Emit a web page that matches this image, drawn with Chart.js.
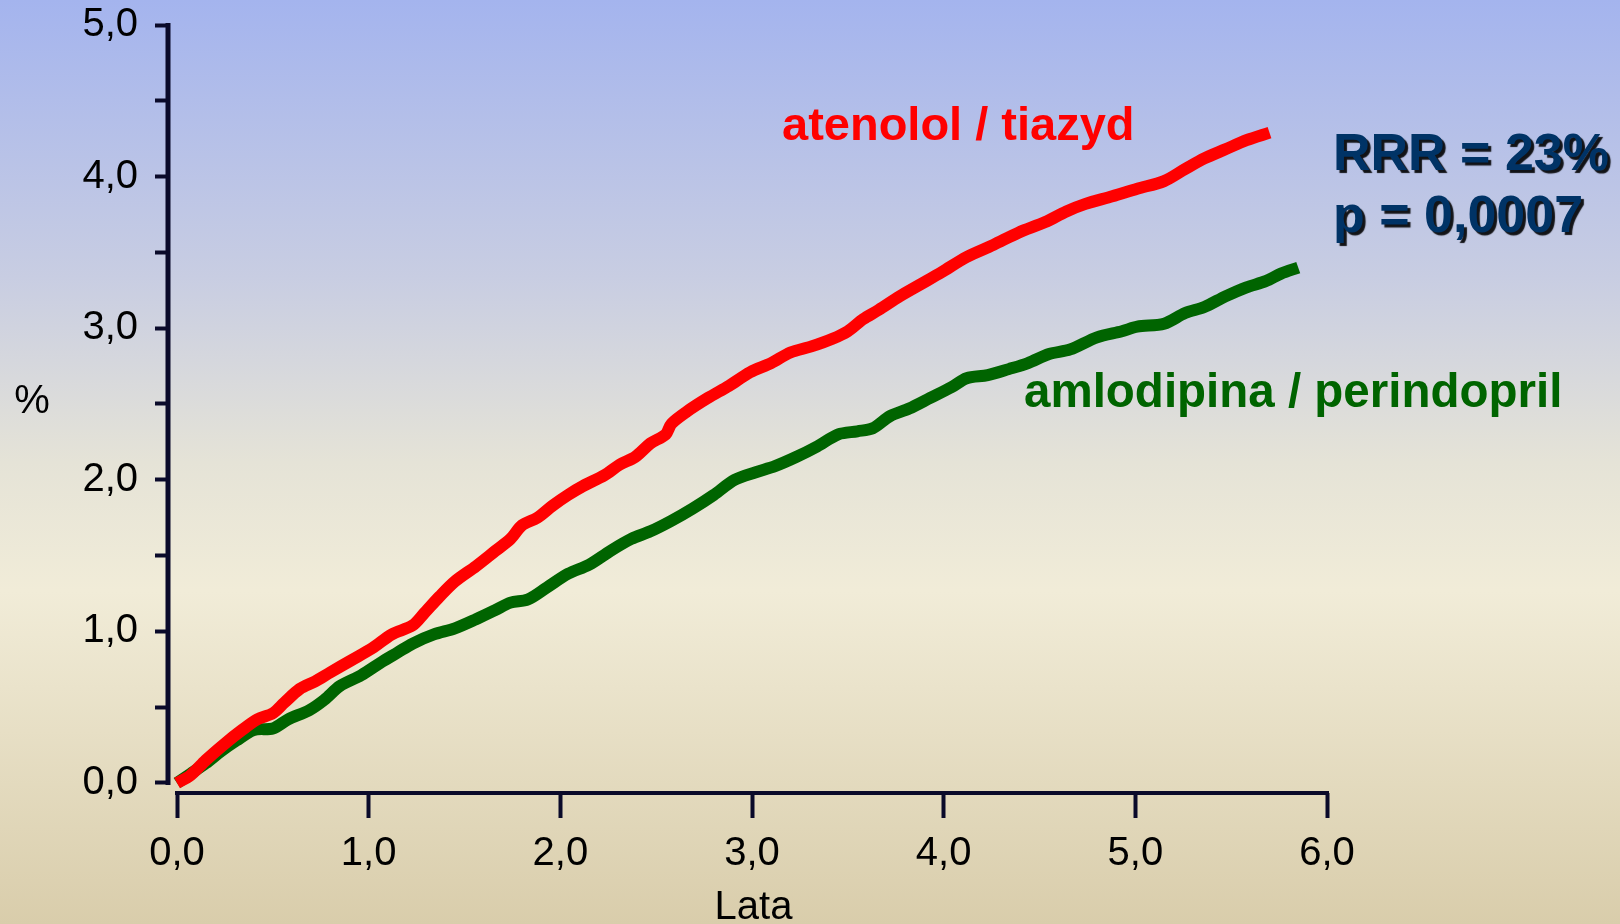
<!DOCTYPE html>
<html>
<head>
<meta charset="utf-8">
<script src="https://cdn.jsdelivr.net/npm/chart.js@4/dist/chart.umd.min.js"></script>
<style>
  html, body { margin: 0; padding: 0; }
  #wrap { width: 1620px; height: 924px; position: relative; }
</style>
</head>
<body>
<div id="wrap"><canvas id="chart"></canvas></div>
<script>
// Cumulative event rate (%) over follow-up time (years)
const atenololYears = [0, 0.07, 0.15, 0.25, 0.34, 0.42, 0.50, 0.56, 0.64, 0.72, 0.80, 0.91, 1.02, 1.12, 1.23, 1.29, 1.37, 1.45, 1.56, 1.66, 1.74, 1.80, 1.88, 1.96, 2.04, 2.12, 2.23, 2.31, 2.39, 2.47, 2.55, 2.58, 2.66, 2.77, 2.88, 2.99, 3.10, 3.20, 3.31, 3.42, 3.50, 3.58, 3.66, 3.77, 3.88, 3.99, 4.12, 4.26, 4.39, 4.53, 4.64, 4.74, 4.88, 5.01, 5.15, 5.26, 5.36, 5.47, 5.58, 5.70];
const atenololPct   = [0, 0.05, 0.15, 0.26, 0.35, 0.42, 0.46, 0.53, 0.62, 0.67, 0.73, 0.81, 0.89, 0.98, 1.04, 1.12, 1.23, 1.33, 1.43, 1.53, 1.61, 1.70, 1.75, 1.83, 1.90, 1.96, 2.03, 2.10, 2.15, 2.24, 2.30, 2.37, 2.45, 2.54, 2.62, 2.71, 2.77, 2.84, 2.88, 2.93, 2.98, 3.06, 3.12, 3.21, 3.29, 3.37, 3.47, 3.55, 3.63, 3.70, 3.77, 3.82, 3.87, 3.92, 3.97, 4.05, 4.12, 4.18, 4.24, 4.29];

const amlodipinaYears = [0, 0.07, 0.15, 0.23, 0.31, 0.40, 0.50, 0.58, 0.69, 0.77, 0.85, 0.96, 1.07, 1.15, 1.23, 1.34, 1.45, 1.56, 1.66, 1.74, 1.83, 1.93, 2.04, 2.15, 2.26, 2.37, 2.47, 2.58, 2.69, 2.80, 2.91, 3.02, 3.12, 3.23, 3.34, 3.45, 3.55, 3.63, 3.72, 3.82, 3.93, 4.04, 4.12, 4.23, 4.34, 4.44, 4.55, 4.66, 4.80, 4.93, 5.01, 5.15, 5.26, 5.36, 5.47, 5.58, 5.68, 5.76, 5.85];
const amlodipinaPct   = [0, 0.06, 0.13, 0.21, 0.28, 0.35, 0.36, 0.42, 0.48, 0.55, 0.64, 0.71, 0.80, 0.86, 0.92, 0.98, 1.02, 1.08, 1.14, 1.19, 1.21, 1.29, 1.38, 1.44, 1.53, 1.61, 1.66, 1.73, 1.81, 1.90, 2.00, 2.05, 2.09, 2.15, 2.22, 2.30, 2.32, 2.34, 2.42, 2.47, 2.54, 2.61, 2.67, 2.69, 2.73, 2.77, 2.83, 2.86, 2.94, 2.98, 3.01, 3.03, 3.10, 3.14, 3.21, 3.27, 3.31, 3.36, 3.40];

const xTickValues = [0, 1, 2, 3, 4, 5, 6];
const yTickValues = [0, 0.5, 1, 1.5, 2, 2.5, 3, 3.5, 4, 4.5, 5];

const seriesNames = ['atenolol / tiazyd', 'amlodipina / perindopril'];
const statLines = ['RRR = 23%', 'p = 0,0007'];
const xTitle = 'Lata';
const yTitle = '%';

const axisColor = '#0a0a2a';
const fontFamily = '"Liberation Sans", Arial, sans-serif';
const fmt = v => v.toFixed(1).replace('.', ',');

const toPoints = (xs, ys) => xs.map((x, i) => ({ x, y: ys[i] }));

const decorations = {
  id: 'decorations',
  beforeDraw(chart) {
    const { ctx, width, height } = chart;
    const g = ctx.createLinearGradient(0, 0, 0, height);
    g.addColorStop(0.00, '#a4b4ee');
    g.addColorStop(0.30, '#c8cde2');
    g.addColorStop(0.50, '#e5e3d7');
    g.addColorStop(0.64, '#f1ecd8');
    g.addColorStop(1.00, '#d9cdab');
    ctx.save();
    ctx.fillStyle = g;
    ctx.fillRect(0, 0, width, height);
    ctx.restore();
  },
  beforeDatasetsDraw(chart) {
    const { ctx, chartArea, scales } = chart;
    const xs = scales.x, ys = scales.y;
    ctx.save();
    ctx.strokeStyle = axisColor;
    ctx.lineWidth = 5;
    ctx.lineCap = 'butt';
    // vertical axis line
    ctx.beginPath();
    ctx.moveTo(chartArea.left, ys.getPixelForValue(5) - 2);
    ctx.lineTo(chartArea.left, ys.getPixelForValue(0) + 2);
    ctx.stroke();
    // horizontal axis line
    ctx.lineWidth = 4;
    ctx.beginPath();
    ctx.moveTo(xs.getPixelForValue(0) - 2, chartArea.bottom);
    ctx.lineTo(xs.getPixelForValue(6) + 2, chartArea.bottom);
    ctx.stroke();
    ctx.restore();
  },
  afterDraw(chart) {
    const { ctx, chartArea, scales } = chart;
    const ys = scales.y;
    ctx.save();
    // axis titles
    ctx.fillStyle = '#000';
    ctx.font = '40px ' + fontFamily;
    ctx.textAlign = 'center';
    ctx.textBaseline = 'alphabetic';
    ctx.fillText(xTitle, (chartArea.left + chartArea.right) / 2 + 6, 919);
    ctx.fillText(yTitle, 32, (ys.getPixelForValue(0) + ys.getPixelForValue(5)) / 2 + 9);

    // series labels
    ctx.textAlign = 'left';
    ctx.font = 'bold 47px ' + fontFamily;
    ctx.fillStyle = '#ff0000';
    ctx.fillText(seriesNames[0], 782, 140);
    ctx.font = 'bold 47.5px ' + fontFamily;
    ctx.fillStyle = '#006400';
    ctx.fillText(seriesNames[1], 1024, 407);

    // statistics
    ctx.font = 'bold 52px ' + fontFamily;
    ctx.fillStyle = '#003366';
    ctx.shadowColor = 'rgba(0,0,0,0.9)';
    ctx.shadowOffsetX = 3;
    ctx.shadowOffsetY = 3;
    ctx.shadowBlur = 1;
    ctx.fillText(statLines[0], 1333, 170);
    ctx.fillText(statLines[1], 1333, 232);
    ctx.restore();
  }
};

new Chart(document.getElementById('chart'), {
  type: 'line',
  data: {
    datasets: [
      {
        label: seriesNames[0],
        data: toPoints(atenololYears, atenololPct),
        borderColor: '#ff0000',
        borderWidth: 12,
        pointRadius: 0,
        tension: 0.3,
        fill: false
      },
      {
        label: seriesNames[1],
        data: toPoints(amlodipinaYears, amlodipinaPct),
        borderColor: '#006400',
        borderWidth: 12,
        pointRadius: 0,
        tension: 0.3,
        fill: false
      }
    ]
  },
  options: {
    responsive: true,
    maintainAspectRatio: false,
    animation: false,
    events: [],
    layout: { padding: { top: 25, right: 293, bottom: 0, left: 0 } },
    plugins: {
      legend: { display: false },
      tooltip: { enabled: false }
    },
    scales: {
      x: {
        type: 'linear',
        min: -0.047,
        max: 6,
        afterBuildTicks: s => { s.ticks = xTickValues.map(v => ({ value: v })); },
        afterFit: s => { s.height = 131; s.paddingLeft = 0; s.paddingRight = 0; },
        border: { display: false },
        grid: {
          drawOnChartArea: false,
          drawTicks: true,
          tickLength: 25,
          tickWidth: 4,
          tickColor: axisColor
        },
        ticks: {
          autoSkip: false,
          maxRotation: 0,
          padding: 12,
          color: '#000',
          font: { family: fontFamily, size: 40 },
          callback: v => fmt(v)
        }
      },
      y: {
        type: 'linear',
        min: -0.066,
        max: 5,
        afterBuildTicks: s => { s.ticks = yTickValues.map(v => ({ value: v })); },
        afterFit: s => { s.width = 168; s.paddingTop = 0; s.paddingBottom = 0; },
        border: { display: false },
        grid: {
          drawOnChartArea: false,
          drawTicks: true,
          tickLength: 13,
          tickWidth: 4,
          tickColor: axisColor
        },
        ticks: {
          autoSkip: false,
          padding: 17,
          color: '#000',
          font: { family: fontFamily, size: 40 },
          callback: v => (Number.isInteger(v) ? fmt(v) : '')
        }
      }
    }
  },
  plugins: [decorations]
});
</script>
</body>
</html>
